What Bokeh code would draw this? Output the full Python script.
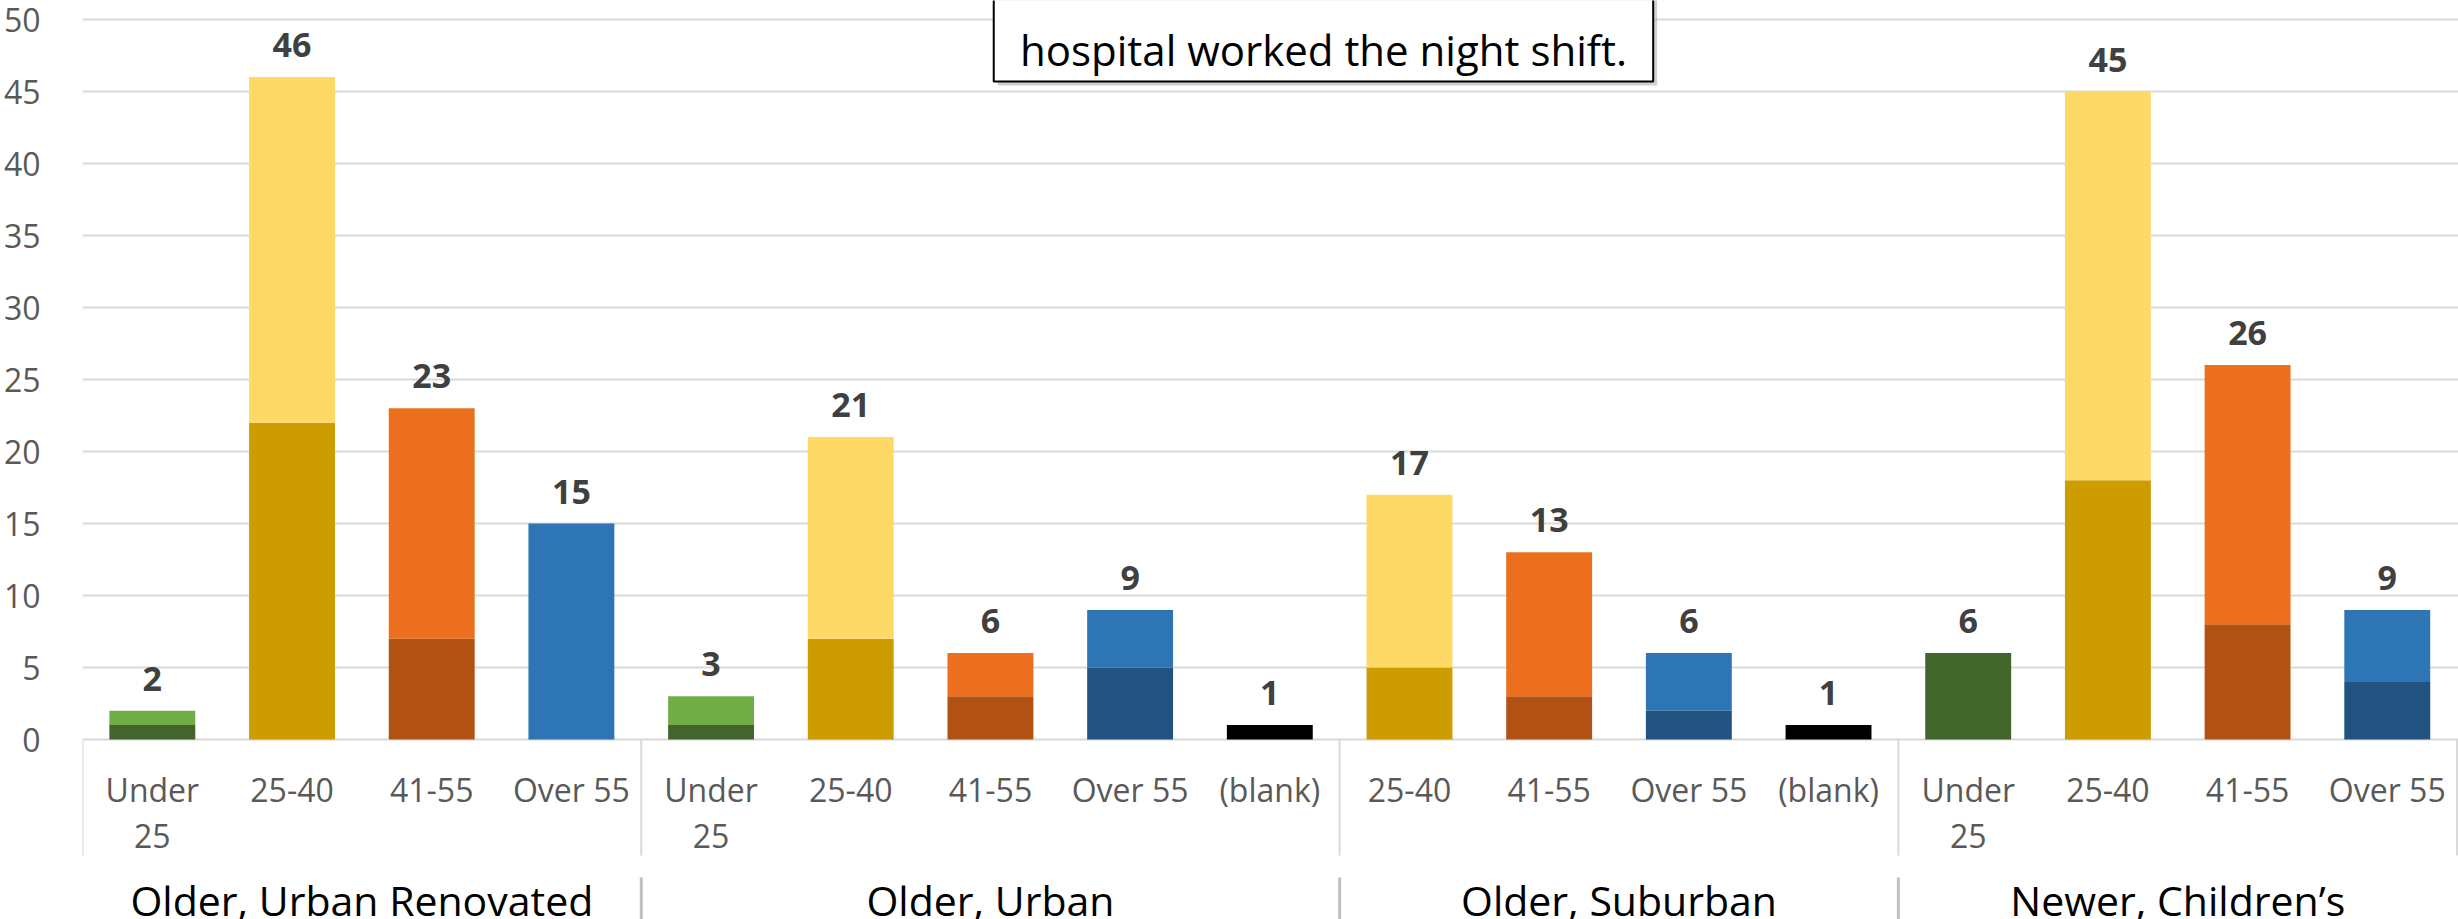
from bokeh.plotting import figure
from bokeh.models import ColumnDataSource, Range1d, FixedTicker
from bokeh.core.properties import value
from bokeh.embed import file_html
from bokeh.resources import INLINE

# ---------------- data ----------------
groups = ["Older, Urban Renovated", "Older, Urban", "Older, Suburban", "Newer, Children\u2019s"]
group_ages = [
    ["Under 25", "25-40", "41-55", "Over 55"],
    ["Under 25", "25-40", "41-55", "Over 55", "(blank)"],
    ["25-40", "41-55", "Over 55", "(blank)"],
    ["Under 25", "25-40", "41-55", "Over 55"],
]
totals = [2, 46, 23, 15, 3, 21, 6, 9, 1, 17, 13, 6, 1, 6, 45, 26, 9]
night = [1, 22, 7, 0, 1, 7, 3, 5, 1, 5, 3, 2, 1, 6, 18, 8, 4]
y_ticks = [0, 5, 10, 15, 20, 25, 30, 35, 40, 45, 50]
note_text = "hospital worked the night shift."

# ---------------- styles ----------------
dark_col = {"Under 25": "#41652A", "25-40": "#CC9C00", "41-55": "#B25212",
            "Over 55": "#225280", "(blank)": "#000000"}
light_col = {"Under 25": "#70AD47", "25-40": "#FFD966", "41-55": "#EB6F1C",
             "Over 55": "#2E75B6", "(blank)": "#000000"}
FONT = "Open Sans"
TXT_SHIFT = -11  # compensation for baseline placement

# flatten
ages, xs = [], []
group_centers, bounds = [], [0]
i = 0
for g, al in zip(groups, group_ages):
    start = i
    for a in al:
        ages.append(a)
        xs.append(i + 0.5)
        i += 1
    group_centers.append((start + i) / 2)
    bounds.append(i)

src = ColumnDataSource(dict(
    x=xs, age=ages, total=totals, night=night,
    zero=[0] * len(xs),
    dark=[dark_col[a] for a in ages], light=[light_col[a] for a in ages],
    label=[str(t) for t in totals],
    line1=[a.split(" ")[0] if a == "Under 25" else a for a in ages],
    line2=[a.split(" ")[1] if a == "Under 25" else "" for a in ages],
))

W, H = 2458, 919
left = 80
ppu_x = 139.8
ppu_y = 14.4
y_top = 50 + 19 / ppu_y
y_bot = y_top - H / ppu_y
x_end = (W - left) / ppu_x

p = figure(width=W, height=H, output_backend="svg", toolbar_location=None,
           x_range=Range1d(0, x_end), y_range=Range1d(y_bot, y_top),
           min_border_left=left, min_border_right=0, min_border_top=0, min_border_bottom=0)
p.outline_line_color = None
p.background_fill_color = "white"
p.border_fill_color = "white"
p.xaxis.visible = False
p.xgrid.visible = False
p.yaxis.ticker = FixedTicker(ticks=y_ticks)
p.yaxis.axis_line_color = None
p.yaxis.major_tick_line_color = None
p.yaxis.minor_tick_line_color = None
p.yaxis.major_label_text_font = FONT
p.yaxis.major_label_text_font_size = "32px"
p.yaxis.major_label_text_color = "#595959"
p.yaxis.major_label_standoff = 36
p.ygrid.grid_line_color = "#D9D9D9"
p.ygrid.grid_line_width = 2

bw = 0.615
p.vbar(x="x", bottom="zero", top="night", width=bw, fill_color="dark", line_color=None, source=src)
p.vbar(x="x", bottom="night", top="total", width=bw, fill_color="light", line_color=None, source=src)

# value labels
p.text(x="x", y="total", text="label", source=src, text_align="center", text_baseline="alphabetic",
       y_offset=-21 + TXT_SHIFT, text_font=value(FONT), text_font_style="bold", text_font_size="34px",
       text_color="#404040")

# category labels
p.text(x="x", y="zero", text="line1", source=src, text_align="center", text_baseline="alphabetic",
       y_offset=61 + TXT_SHIFT, text_font=value(FONT), text_font_size="32px", text_color="#595959")
p.text(x="x", y="zero", text="line2", source=src, text_align="center", text_baseline="alphabetic",
       y_offset=107 + TXT_SHIFT, text_font=value(FONT), text_font_size="32px", text_color="#595959")

# category axis box lines
tick_sep_y = -(855 - 739) / ppu_y
p.segment(x0=bounds, y0=[0] * len(bounds), x1=bounds, y1=[tick_sep_y] * len(bounds),
          line_color="#D9D9D9", line_width=2)
grp_sep_top = -(877 - 739) / ppu_y
inner = bounds[1:-1]
p.segment(x0=inner, y0=[grp_sep_top] * len(inner), x1=inner, y1=[y_bot - 1] * len(inner),
          line_color="#BFBFBF", line_width=3)

# group labels
p.text(x=group_centers, y=[0] * len(groups), text=groups, text_align="center",
       text_baseline="alphabetic", y_offset=171 + TXT_SHIFT, text_font=value(FONT),
       text_font_size="41px", text_color="#000000")

# annotation box (callout)
bx0 = (992 - left) / ppu_x
bx1 = (1652 - left) / ppu_x
by0 = y_top - 81 / ppu_y
dx, dy = 4 / ppu_x, 4 / ppu_y
p.quad(left=[bx0 + dx], right=[bx1 + dx], bottom=[by0 - dy], top=[y_top + 2],
       fill_color="#9a9a9a", fill_alpha=0.45, line_color=None)
p.quad(left=[bx0], right=[bx1], bottom=[by0], top=[y_top + 2],
       fill_color="white", line_color="black", line_width=2)
p.text(x=[(bx0 + bx1) / 2], y=[y_top - 57 / ppu_y], text=[note_text], text_align="center",
       text_baseline="alphabetic", y_offset=TXT_SHIFT + 3, text_font=value(FONT),
       text_font_size="42px", text_color="#000000")

open("out.html", "w").write(file_html(p, INLINE))
